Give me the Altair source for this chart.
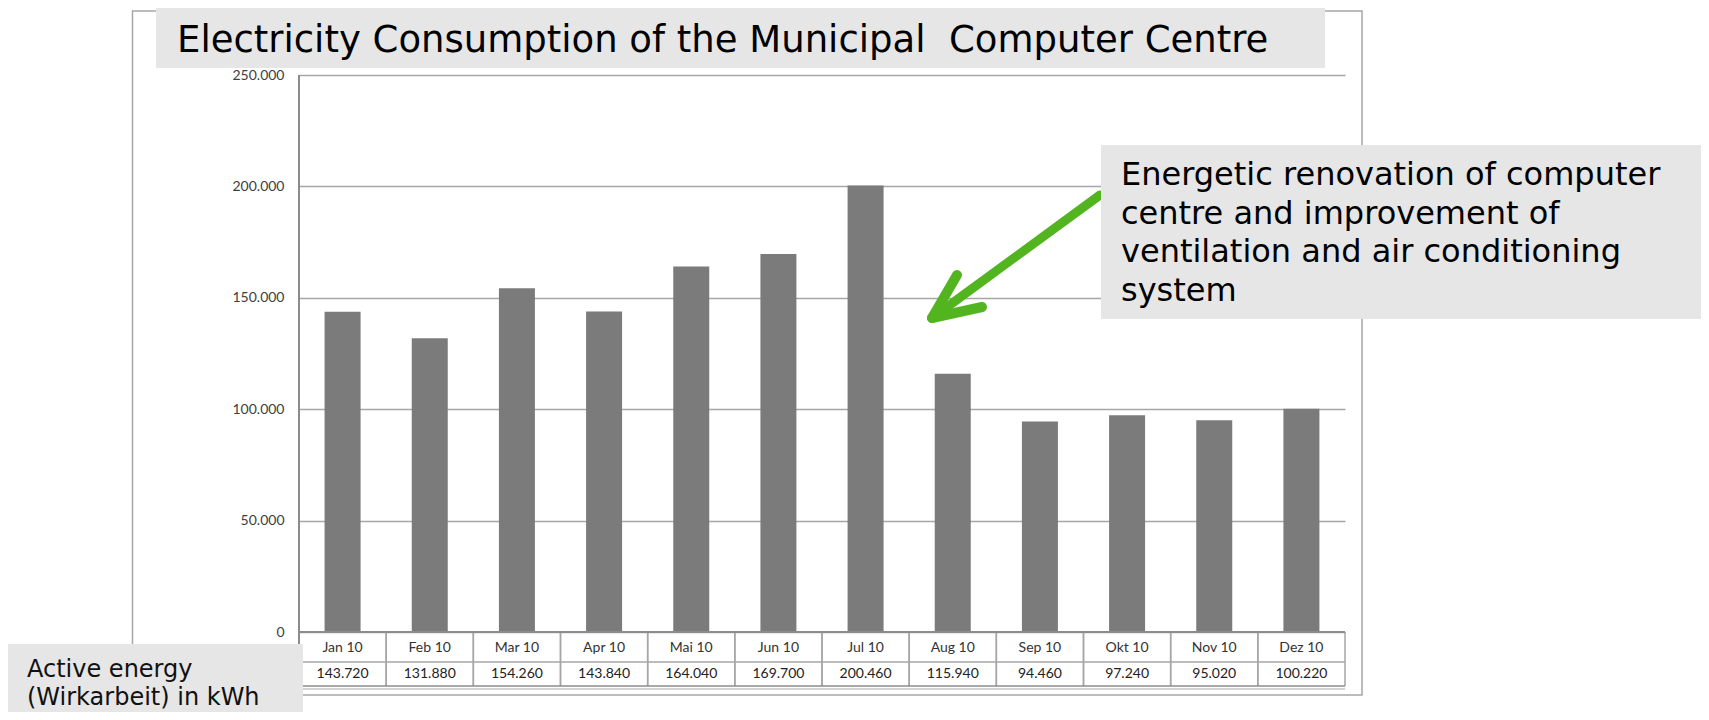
import altair as alt
import pandas as pd

# ---- data ----
months = ["Jan 10", "Feb 10", "Mar 10", "Apr 10", "Mai 10", "Jun 10",
          "Jul 10", "Aug 10", "Sep 10", "Okt 10", "Nov 10", "Dez 10"]
kwh = [143720, 131880, 154260, 143840, 164040, 169700,
       200460, 115940, 94460, 97240, 95020, 100220]
y_ticks = [0, 50000, 100000, 150000, 200000, 250000]

title_text = "Electricity Consumption of the Municipal\u00a0 Computer Centre"
note_lines = ["Energetic renovation of computer",
              "centre and improvement of",
              "ventilation and air conditioning",
              "system"]
unit_lines = ["Active energy", "(Wirkarbeit) in kWh"]

df = pd.DataFrame({"month": months, "kwh": kwh})
one = pd.DataFrame({"k": [0]})

W, H = 1046, 557
BOX = "#e6e6e6"
LINE = "#8c8c8c"
GRID = "#a6a6a6"
GERMAN = "replace(format(datum.value, ','), ',', '.')"

x_enc = alt.X("month:N", sort=months,
              scale=alt.Scale(paddingInner=0, paddingOuter=0), axis=None)
y_scale = alt.Scale(domain=[0, 250000], nice=False, zero=True)

base = alt.Chart(df)
deco = alt.Chart(one)


def rect(x, x2, y, y2, **kw):
    return deco.mark_rect(**kw).encode(
        x=alt.value(x), x2=alt.value(x2), y=alt.value(y), y2=alt.value(y2))


def rule(x, x2, y, y2, **kw):
    return deco.mark_rule(**kw).encode(
        x=alt.value(x), x2=alt.value(x2), y=alt.value(y), y2=alt.value(y2))


frame = rect(-166.5, 1063, -64, 620, fillOpacity=0, stroke="#a6a6a6", strokeWidth=1.5)
title_box = rect(-143, 1026, -72, -7, color=BOX)
title = deco.mark_text(font="DejaVu Sans", fontSize=37, align="left",
                       baseline="alphabetic", color="#000000").encode(
    x=alt.value(-122), y=alt.value(-23), text=alt.value(title_text))

bars = base.mark_bar(size=36, color="#7b7b7b").encode(
    x=x_enc,
    y=alt.Y("kwh:Q", scale=y_scale,
            axis=alt.Axis(values=y_ticks, grid=True, gridColor=GRID, gridWidth=1.5,
                          domain=False, ticks=False, labelPadding=15,
                          labelFont="Lato", labelFontSize=14, labelColor="#404040",
                          labelExpr=GERMAN, title=None)),
)

# data table under the bars
col_left = base.mark_rule(color=GRID, strokeWidth=1.5).encode(
    x=alt.X("month:N", sort=months, bandPosition=0,
            scale=alt.Scale(paddingInner=0, paddingOuter=0), axis=None),
    y=alt.value(557), y2=alt.value(611))
col_right = base.mark_rule(color=GRID, strokeWidth=1.5).encode(
    x=alt.X("month:N", sort=months, bandPosition=1,
            scale=alt.Scale(paddingInner=0, paddingOuter=0), axis=None),
    y=alt.value(557), y2=alt.value(611))
row_mid = rule(0, W, 587, 587, color=GRID, strokeWidth=1.5)
row_bot = rule(0, W, 611, 611, color=LINE, strokeWidth=1.5)
row_shadow = rule(0, W, 614, 614, color="#d4d4d4", strokeWidth=2)
zero_line = rule(0, W, 557, 557, color=LINE, strokeWidth=2)
y_line = rule(0, 0, 0, 611, color=LINE, strokeWidth=2)

cat_text = base.mark_text(font="Lato", fontSize=14, color="#333333",
                          baseline="middle").encode(
    x=x_enc, y=alt.value(573), text="month:N")
val_text = base.transform_calculate(
    lab="replace(format(datum.kwh, ','), ',', '.')"
).mark_text(font="Lato", fontSize=14, color="#222222", baseline="middle").encode(
    x=x_enc, y=alt.value(599), text="lab:N")

# annotation with arrow
ARROW = "#52b520"
shaft = rule(801, 633, 120, 243, color=ARROW, strokeWidth=9, strokeCap="round")
barb1 = rule(633, 658, 243, 200, color=ARROW, strokeWidth=10, strokeCap="round")
barb2 = rule(633, 683, 243, 232, color=ARROW, strokeWidth=10, strokeCap="round")
note_box = rect(802, 1420, 70, 244, color=BOX)
note = deco.mark_text(font="DejaVu Sans", fontSize=32, align="left",
                      baseline="alphabetic", lineHeight=38.5, color="#000000").encode(
    x=alt.value(822), y=alt.value(110), text=alt.value(note_lines))

unit_box = rect(-292, 4, 569, 650, color=BOX)
unit = deco.mark_text(font="DejaVu Sans", fontSize=24, align="left",
                      baseline="alphabetic", lineHeight=28, color="#111111").encode(
    x=alt.value(-272), y=alt.value(602), text=alt.value(unit_lines))

chart = alt.layer(
    frame, title_box, title, bars,
    col_left, col_right, row_mid, row_bot, row_shadow, zero_line, y_line,
    cat_text, val_text,
    shaft, barb1, barb2, note_box, note,
    unit_box, unit,
).properties(
    width=W, height=H,
    padding={"left": 291, "top": 67, "right": 356, "bottom": 80},
    autosize=alt.AutoSizeParams(type="none"),
).configure_view(stroke="transparent")

chart.save("out.html", embed_options={"renderer": "svg", "actions": False})
